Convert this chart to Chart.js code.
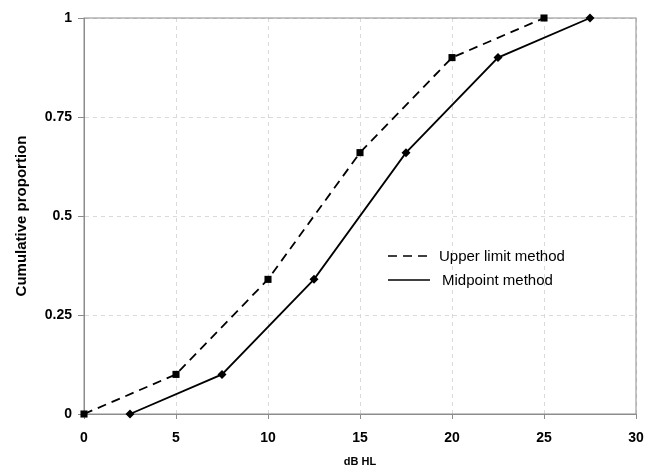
<!DOCTYPE html>
<html lang="en">
<head>
    <meta charset="UTF-8">
    <title>cumulative proportion</title>
    <script src="https://cdn.jsdelivr.net/npm/chart.js"></script>
    <style>
        html, body { margin: 0; padding: 0; background: #fff; }
        .chart-container { width: 646px; height: 466px; }
    </style>
</head>
<body>
<div class="chart-container">
    <canvas id="cumChart"></canvas>
</div>
<script>
    // data
    var upperX = [0, 5, 10, 15, 20, 25];
    var upperY = [0, 0.1, 0.34, 0.66, 0.9, 1];
    var midX = [2.5, 7.5, 12.5, 17.5, 22.5, 27.5];
    var midY = [0, 0.1, 0.34, 0.66, 0.9, 1];
    var seriesNames = ['Upper limit method', 'Midpoint method'];
    var yTickLabels = {0: '0', 0.25: '0.25', 0.5: '0.5', 0.75: '0.75', 1: '1'};

    function pts(xs, ys) {
        return xs.map(function (x, i) { return {x: x, y: ys[i]}; });
    }

    // frame around plot + legend inside plot area
    var framePlugin = {
        id: 'frame',
        beforeDatasetsDraw: function (chart) {
            var a = chart.chartArea, ctx = chart.ctx;
            ctx.save();
            ctx.strokeStyle = '#8c8c8c';
            ctx.lineWidth = 1;
            ctx.setLineDash([]);
            ctx.strokeRect(a.left, a.top, a.right - a.left, a.bottom - a.top);
            ctx.restore();
        },
        afterDraw: function (chart) {
            var ctx = chart.ctx;
            ctx.save();
            ctx.strokeStyle = '#000';
            ctx.lineWidth = 1.6;
            ctx.fillStyle = '#000';
            ctx.font = '15px "Liberation Sans", Arial, sans-serif';
            ctx.textBaseline = 'middle';
            ctx.setLineDash([9, 6]);
            ctx.beginPath(); ctx.moveTo(388, 256); ctx.lineTo(428, 256); ctx.stroke();
            ctx.fillText(seriesNames[0], 439, 257);
            ctx.setLineDash([]);
            ctx.beginPath(); ctx.moveTo(388, 280); ctx.lineTo(430, 280); ctx.stroke();
            ctx.fillText(seriesNames[1], 442, 281);
            ctx.restore();
        }
    };

    var tickFont = {family: '"Liberation Sans", Arial, sans-serif', size: 14, weight: 'bold'};
    var xTitleFont = {family: '"Liberation Sans", Arial, sans-serif', size: 11, weight: 'bold'};
    var yTitleFont = {family: '"Liberation Sans", Arial, sans-serif', size: 15, weight: 'bold'};

    new Chart(document.getElementById('cumChart'), {
        type: 'line',
        data: {
            datasets: [{
                label: seriesNames[0],
                data: pts(upperX, upperY),
                borderColor: '#000',
                backgroundColor: '#000',
                borderWidth: 1.8,
                borderDash: [9, 6],
                pointStyle: 'rect',
                pointRadius: 5,
                pointBorderWidth: 0,
                tension: 0,
                clip: false
            }, {
                label: seriesNames[1],
                data: pts(midX, midY),
                borderColor: '#000',
                backgroundColor: '#000',
                borderWidth: 1.8,
                pointStyle: 'rectRot',
                pointRadius: 4.5,
                pointBorderWidth: 0,
                tension: 0,
                clip: false
            }]
        },
        options: {
            responsive: true,
            maintainAspectRatio: false,
            animation: false,
            layout: {padding: {top: 18, right: 10, left: 0, bottom: 0}},
            plugins: {legend: {display: false}, tooltip: {enabled: false}},
            scales: {
                x: {
                    type: 'linear',
                    min: 0, max: 30,
                    ticks: {stepSize: 5, color: '#000', font: tickFont, padding: 11},
                    grid: {color: '#d9d9d9', tickLength: 5, tickColor: '#8c8c8c'},
                    border: {color: '#8c8c8c', dash: [4, 4]},
                    title: {display: true, text: 'dB HL', color: '#000', font: xTitleFont, padding: {top: 0, bottom: -3}},
                    afterFit: function (s) { s.height = 52; s.paddingRight = 0; s.paddingLeft = 0; }
                },
                y: {
                    type: 'linear',
                    min: 0, max: 1,
                    ticks: {
                        stepSize: 0.25, color: '#000', font: tickFont, padding: 6,
                        callback: function (v) { return yTickLabels[v]; }
                    },
                    grid: {color: '#d9d9d9', tickLength: 6, tickColor: '#8c8c8c'},
                    border: {color: '#8c8c8c', dash: [4, 4]},
                    title: {display: true, text: 'Cumulative proportion', color: '#000', font: yTitleFont, padding: {top: 13, bottom: 0}},
                    afterFit: function (s) { s.width = 84; s.paddingTop = 0; s.paddingBottom = 0; }
                }
            }
        },
        plugins: [framePlugin]
    });
</script>
</body>
</html>
